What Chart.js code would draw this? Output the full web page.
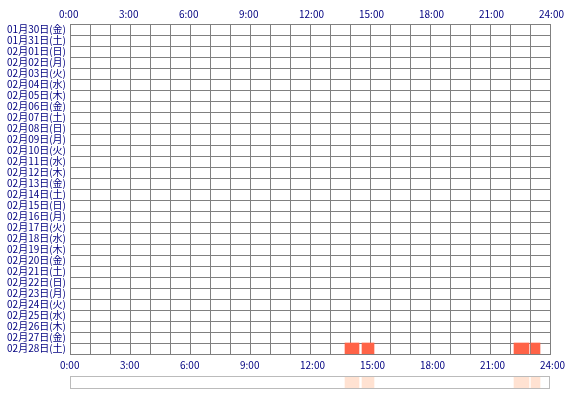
<!DOCTYPE html>
<html><head><meta charset="utf-8">
<script src="https://cdn.jsdelivr.net/npm/chart.js@4/dist/chart.umd.min.js"></script>
<style>
html,body{margin:0;padding:0;background:#fff;}
#wrap{position:relative;width:570px;height:400px;}
#main{position:absolute;left:0;top:0;}
#strip{position:absolute;left:0;top:370px;}
</style></head>
<body>
<div id="wrap">
<canvas id="main" width="570" height="400"></canvas>
<canvas id="strip" width="570" height="24"></canvas>
</div>
<script>
const days = ['01月30日(金)','01月31日(土)','02月01日(日)','02月02日(月)','02月03日(火)','02月04日(水)','02月05日(木)','02月06日(金)','02月07日(土)','02月08日(日)','02月09日(月)','02月10日(火)','02月11日(水)','02月12日(木)','02月13日(金)','02月14日(土)','02月15日(日)','02月16日(月)','02月17日(火)','02月18日(水)','02月19日(木)','02月20日(金)','02月21日(土)','02月22日(日)','02月23日(月)','02月24日(火)','02月25日(水)','02月26日(木)','02月27日(金)','02月28日(土)'];
const sessionDay = ['02月28日(土)','02月28日(土)','02月28日(土)','02月28日(土)'];
const sessionStart = [13.75, 14.6, 22.2, 23.05];
const sessionEnd = [14.45, 15.2, 22.95, 23.5];
const hourTicks = [0,3,6,9,12,15,18,21,24];

const NAVY = '#000080';
const GRID = '#808080';
const FONT = {family:'"Noto Sans CJK JP", "DejaVu Sans", sans-serif', size:10};
const fmt = v => (hourTicks.includes(v) ? v + ':00' : '');

const mainData = sessionStart.map((s,i)=>({y:sessionDay[i], x:[s, sessionEnd[i]]}));

new Chart(document.getElementById('main'), {
  type:'bar',
  data:{labels:days, datasets:[{data:mainData, backgroundColor:'#ff6347', borderWidth:0, barPercentage:1, categoryPercentage:1}]},
  options:{
    indexAxis:'y', responsive:false, animation:false, devicePixelRatio:1,
    layout:{padding:{left:0,right:20,top:0,bottom:26}},
    plugins:{legend:{display:false}, tooltip:{enabled:false}},
    scales:{
      x:{type:'linear', position:'bottom', min:0, max:24, z:1,
        afterFit:s=>{s.height=20;s.paddingLeft=0;s.paddingRight=0;},
        afterBuildTicks:s=>{s.ticks=[];for(let h=0;h<=24;h++)s.ticks.push({value:h});},
        grid:{color:GRID, lineWidth:1, drawTicks:false},
        border:{color:GRID},
        ticks:{autoSkip:false, maxRotation:0, color:NAVY, font:FONT, padding:5, align:'start', labelOffset:-10, callback:fmt}},
      x2:{type:'linear', position:'top', min:0, max:24, z:1,
        afterFit:s=>{s.height=24;s.paddingLeft=0;s.paddingRight=0;},
        afterBuildTicks:s=>{s.ticks=[];for(let h=0;h<=24;h++)s.ticks.push({value:h});},
        grid:{display:false, drawTicks:false},
        border:{color:GRID},
        ticks:{autoSkip:false, maxRotation:0, color:NAVY, font:FONT, padding:4, align:'start', labelOffset:-11, callback:fmt}},
      y:{type:'category', offset:true, z:1,
        afterFit:s=>{s.width=70;s.paddingTop=0;s.paddingBottom=0;},
        grid:{color:GRID, lineWidth:1, offset:true, drawTicks:false},
        border:{color:GRID},
        ticks:{autoSkip:false, color:NAVY, font:FONT, padding:4}}
    }
  }
});

const stripBorder = {id:'stripBorder', afterDraw(c){const a=c.chartArea, ctx=c.ctx; ctx.save(); ctx.strokeStyle='#bbbbbb'; ctx.lineWidth=1; ctx.strokeRect(a.left+0.5, a.top+0.5, a.right-a.left-1, a.bottom-a.top-1); ctx.restore();}};
const stripData = sessionStart.map((s,i)=>({y:'all', x:[s, sessionEnd[i]]}));
new Chart(document.getElementById('strip'), {
  type:'bar',
  data:{labels:['all'], datasets:[{data:stripData, backgroundColor:'#ffe2d2', borderWidth:0, barPercentage:1, categoryPercentage:1}]},
  options:{
    indexAxis:'y', responsive:false, animation:false, devicePixelRatio:1,
    layout:{padding:{left:70,right:20,top:6,bottom:5}},
    plugins:{legend:{display:false}, tooltip:{enabled:false}},
    scales:{x:{type:'linear', min:0, max:24, display:false}, y:{type:'category', display:false}}
  },
  plugins:[stripBorder]
});
</script>
</body></html>
